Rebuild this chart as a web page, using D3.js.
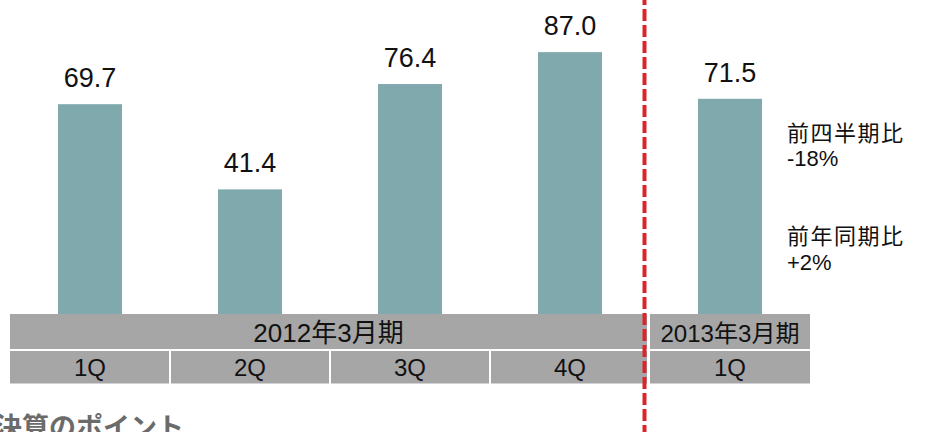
<!DOCTYPE html>
<html>
<head>
<meta charset="utf-8">
<script src="https://cdn.jsdelivr.net/npm/d3@7/dist/d3.min.js"></script>
<style>
  html, body { margin: 0; padding: 0; background: #fff; }
  svg { display: block; }
  text { font-family: "Liberation Sans", Arial, "Noto Sans CJK JP", sans-serif; fill: #111; }
</style>
</head>
<body>
<svg id="chart" width="928" height="432"></svg>
<script>
// Quarterly values
const quarters = ["2012-1Q", "2012-2Q", "2012-3Q", "2012-4Q", "2013-1Q"];
const quarterLabels = ["1Q", "2Q", "3Q", "4Q", "1Q"];
const values = [69.7, 41.4, 76.4, 87.0, 71.5];
// Fiscal year groups: label and how many quarters they span
const yearLabels = ["2012年3月期", "2013年3月期"];
const yearSpans = [4, 1];
// Side notes for the latest quarter
const noteTitles = ["前四半期比", "前年同期比"];
const noteValues = ["-18%", "+2%"];
const heading = "決算のポイント";

const svg = d3.select("#chart");
const W = 928, H = 432;
const baseY = 314;

const x = d3.scaleBand()
  .domain(quarters)
  .range([10, 810])
  .paddingInner(0.6)
  .paddingOuter(0.3);

const y = d3.scaleLinear()
  .domain([0, 100])
  .range([baseY, baseY - 301]);

const step = x.step();
const cellLeft = d => x(d) - x.paddingOuter() * step;

// Bars
svg.append("g").selectAll("rect")
  .data(quarters)
  .join("rect")
  .attr("x", d => x(d))
  .attr("width", x.bandwidth())
  .attr("y", (d, i) => y(values[i]))
  .attr("height", (d, i) => y(0) - y(values[i]))
  .attr("fill", "#80a9ad");

// Value labels
svg.append("g").selectAll("text")
  .data(quarters)
  .join("text")
  .attr("x", d => x(d) + x.bandwidth() / 2)
  .attr("y", (d, i) => y(values[i]) - 17)
  .attr("text-anchor", "middle")
  .style("font-size", "27px")
  .text((d, i) => values[i].toFixed(1));

// Category table: fiscal year row and quarter row
const rowTop = baseY, rowMid = 349, row2Top = 351, row2Bot = 383.5;
const yearGap = 648.5; // boundary between fiscal years

let startIdx = 0;
const yearCells = yearLabels.map((lab, k) => {
  const first = quarters[startIdx];
  const last = quarters[startIdx + yearSpans[k] - 1];
  startIdx += yearSpans[k];
  let x0 = cellLeft(first);
  let x1 = cellLeft(last) + step;
  if (k > 0) x0 = yearGap + 1.5;
  if (k < yearLabels.length - 1) x1 = yearGap - 1.5;
  return { lab, x0, x1 };
});

const tbl = svg.append("g");
tbl.selectAll("rect.year")
  .data(yearCells)
  .join("rect")
  .attr("class", "year")
  .attr("x", d => d.x0)
  .attr("width", d => d.x1 - d.x0)
  .attr("y", rowTop)
  .attr("height", rowMid - rowTop)
  .attr("fill", "#a6a6a6");

// Year label shrinks to fit narrow cells (label is ~5.78em wide)
tbl.selectAll("text.year")
  .data(yearCells)
  .join("text")
  .attr("class", "year")
  .attr("x", d => (d.x0 + d.x1) / 2)
  .attr("y", 342)
  .attr("text-anchor", "middle")
  .style("font-size", d => Math.min(26, (d.x1 - d.x0) * 0.87 / 5.78) + "px")
  .text(d => d.lab);

const qCells = quarters.map((d, i) => {
  let x0 = cellLeft(d) + (i > 0 ? 1 : 0);
  let x1 = cellLeft(d) + step - (i < quarters.length - 1 ? 1 : 0);
  if (i === 3) x1 = yearGap - 1.5;
  if (i === 4) x0 = yearGap + 1.5;
  return { lab: quarterLabels[i], x0, x1, cx: x(d) + x.bandwidth() / 2 };
});

tbl.selectAll("rect.q")
  .data(qCells)
  .join("rect")
  .attr("class", "q")
  .attr("x", d => d.x0)
  .attr("width", d => d.x1 - d.x0)
  .attr("y", row2Top)
  .attr("height", row2Bot - row2Top)
  .attr("fill", "#a6a6a6");

tbl.selectAll("text.q")
  .data(qCells)
  .join("text")
  .attr("class", "q")
  .attr("x", d => d.cx)
  .attr("y", 375.5)
  .attr("text-anchor", "middle")
  .style("font-size", "24px")
  .text(d => d.lab);

// Fiscal-year divider
svg.append("line")
  .attr("x1", 644.5).attr("x2", 644.5)
  .attr("y1", 0).attr("y2", H)
  .attr("stroke", "#d9262b")
  .attr("stroke-width", 4)
  .attr("stroke-dasharray", "12,4")
  .attr("stroke-dashoffset", 7);

// Side notes
const noteX = 787;
const noteYs = [[140.5, 166], [243.5, 269.5]];
noteTitles.forEach((t, i) => {
  svg.append("text")
    .attr("x", noteX).attr("y", noteYs[i][0])
    .style("font-size", "22px")
    .style("letter-spacing", "1.5px")
    .text(t);
  svg.append("text")
    .attr("x", noteX).attr("y", noteYs[i][1])
    .style("font-size", "22px")
    .text(noteValues[i]);
});

// Section heading (runs past the bottom edge)
svg.append("text")
  .attr("x", -5).attr("y", 437)
  .style("font-size", "27px")
  .style("font-weight", "bold")
  .style("fill", "#6b6b6b")
  .text(heading);
</script>
</body>
</html>
